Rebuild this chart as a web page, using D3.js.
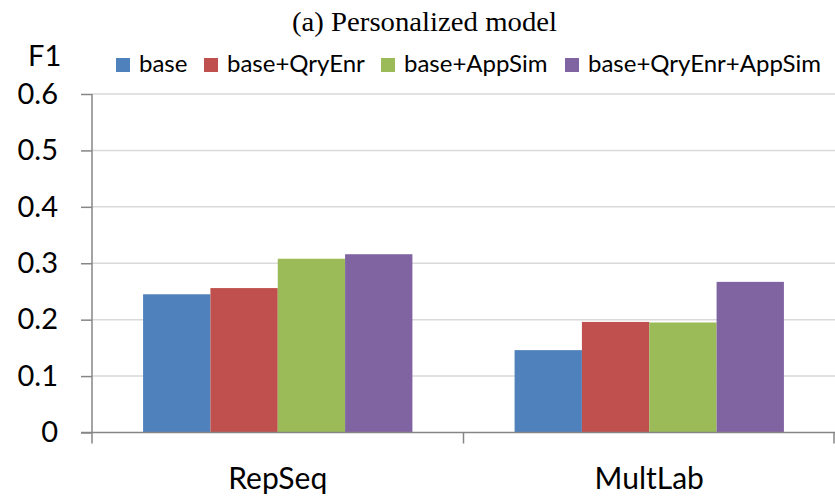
<!DOCTYPE html>
<html><head><meta charset="utf-8">
<script src="https://cdn.jsdelivr.net/npm/d3@7"></script>
<style>body{margin:0;background:#fff}</style>
</head><body>
<script>
const categories = ["RepSeq", "MultLab"];
const seriesNames = ["base", "base+QryEnr", "base+AppSim", "base+QryEnr+AppSim"];
const base = [0.245, 0.146];
const baseQryEnr = [0.256, 0.196];
const baseAppSim = [0.308, 0.195];
const baseQryEnrAppSim = [0.316, 0.267];
const yTicks = [0, 0.1, 0.2, 0.3, 0.4, 0.5, 0.6];
const colors = ["#4f81bd", "#c0504d", "#9bbb59", "#8064a2"];
const seriesValues = [base, baseQryEnr, baseAppSim, baseQryEnrAppSim];

(function () {
const W = 835, H = 499;
const svg = d3.select("body").append("svg").attr("width", W).attr("height", H);
const mL = 92, mR = 835, mT = 94, mB = 432.5;
const font = "Lato, 'Open Sans', sans-serif";

const x = d3.scaleBand().domain(categories).range([mL, mR]).padding(0);
const inner = d3.scaleBand().domain(seriesNames)
  .range([x.bandwidth()*0.1375, x.bandwidth()*(1-0.1375)]).padding(0);
const y = d3.scaleLinear().domain([0, 0.6]).range([mB, mT]);

// title
svg.append("text").attr("x", 292).attr("y", 31)
  .attr("font-family", "'Liberation Serif', 'Times New Roman', serif").attr("font-size", 27)
  .attr("textLength", 265).attr("lengthAdjust", "spacingAndGlyphs")
  .attr("fill", "#000").text("(a) Personalized model");

// gridlines
svg.append("g").selectAll("line").data(yTicks.filter(d => d > 0)).join("line")
  .attr("x1", mL).attr("x2", mR).attr("y1", d => y(d)).attr("y2", d => y(d))
  .attr("stroke", "#d9d9d9").attr("stroke-width", 1.5);

// bars
const g = svg.append("g");
seriesNames.forEach((s, si) => {
  g.selectAll(null).data(categories).join("rect")
    .attr("x", c => x(c) + inner(s))
    .attr("width", inner.bandwidth())
    .attr("y", (c, ci) => y(seriesValues[si][ci]))
    .attr("height", (c, ci) => y(0) - y(seriesValues[si][ci]))
    .attr("fill", colors[si]);
});

// y axis
const yAxis = d3.axisLeft(y).tickValues(yTicks).tickSize(11).tickPadding(23)
  .tickFormat(d => d === 0 ? "0" : d3.format(".1f")(d));
const ya = svg.append("g").attr("transform", `translate(${mL},0)`).call(yAxis);
ya.select(".domain").attr("stroke", "#868686").attr("stroke-width", 1.5)
  .attr("d", `M0,${mT}V${mB}`);
ya.selectAll(".tick line").attr("stroke", "#868686").attr("stroke-width", 1.5);
ya.selectAll(".tick text").attr("font-family", font).attr("font-size", 29).attr("fill", "#000");

// x axis
const xa = svg.append("g").attr("transform", `translate(0,${mB})`);
xa.append("line").attr("x1", mL - 11).attr("x2", mR).attr("y1", 0).attr("y2", 0)
  .attr("stroke", "#868686").attr("stroke-width", 1.5);
const bounds = [mL, ...categories.map(c => x(c) + x.bandwidth())];
xa.selectAll(".bt").data(bounds).join("line").attr("class", "bt")
  .attr("x1", d => Math.min(d, mR - 1)).attr("x2", d => Math.min(d, mR - 1))
  .attr("y1", 0).attr("y2", 11).attr("stroke", "#868686").attr("stroke-width", 1.5);
xa.selectAll(".cl").data(categories).join("text").attr("class", "cl")
  .attr("x", c => x(c) + x.bandwidth()/2).attr("y", 56).attr("text-anchor", "middle")
  .attr("font-family", font).attr("font-size", 30).attr("fill", "#000").text(c => c);

// F1 label
svg.append("text").attr("x", 28).attr("y", 66).attr("font-family", font).attr("font-size", 29)
  .attr("fill", "#000").text("F1");

// legend
const legX = [116, 204, 381, 565];
const leg = svg.append("g");
seriesNames.forEach((s, i) => {
  leg.append("rect").attr("x", legX[i]).attr("y", 58).attr("width", 14).attr("height", 14).attr("fill", colors[i]);
  leg.append("text").attr("x", legX[i] + 23).attr("y", 72).attr("font-family", font)
    .attr("font-size", 24).attr("fill", "#000").text(s);
});
})();
</script>
</body></html>
